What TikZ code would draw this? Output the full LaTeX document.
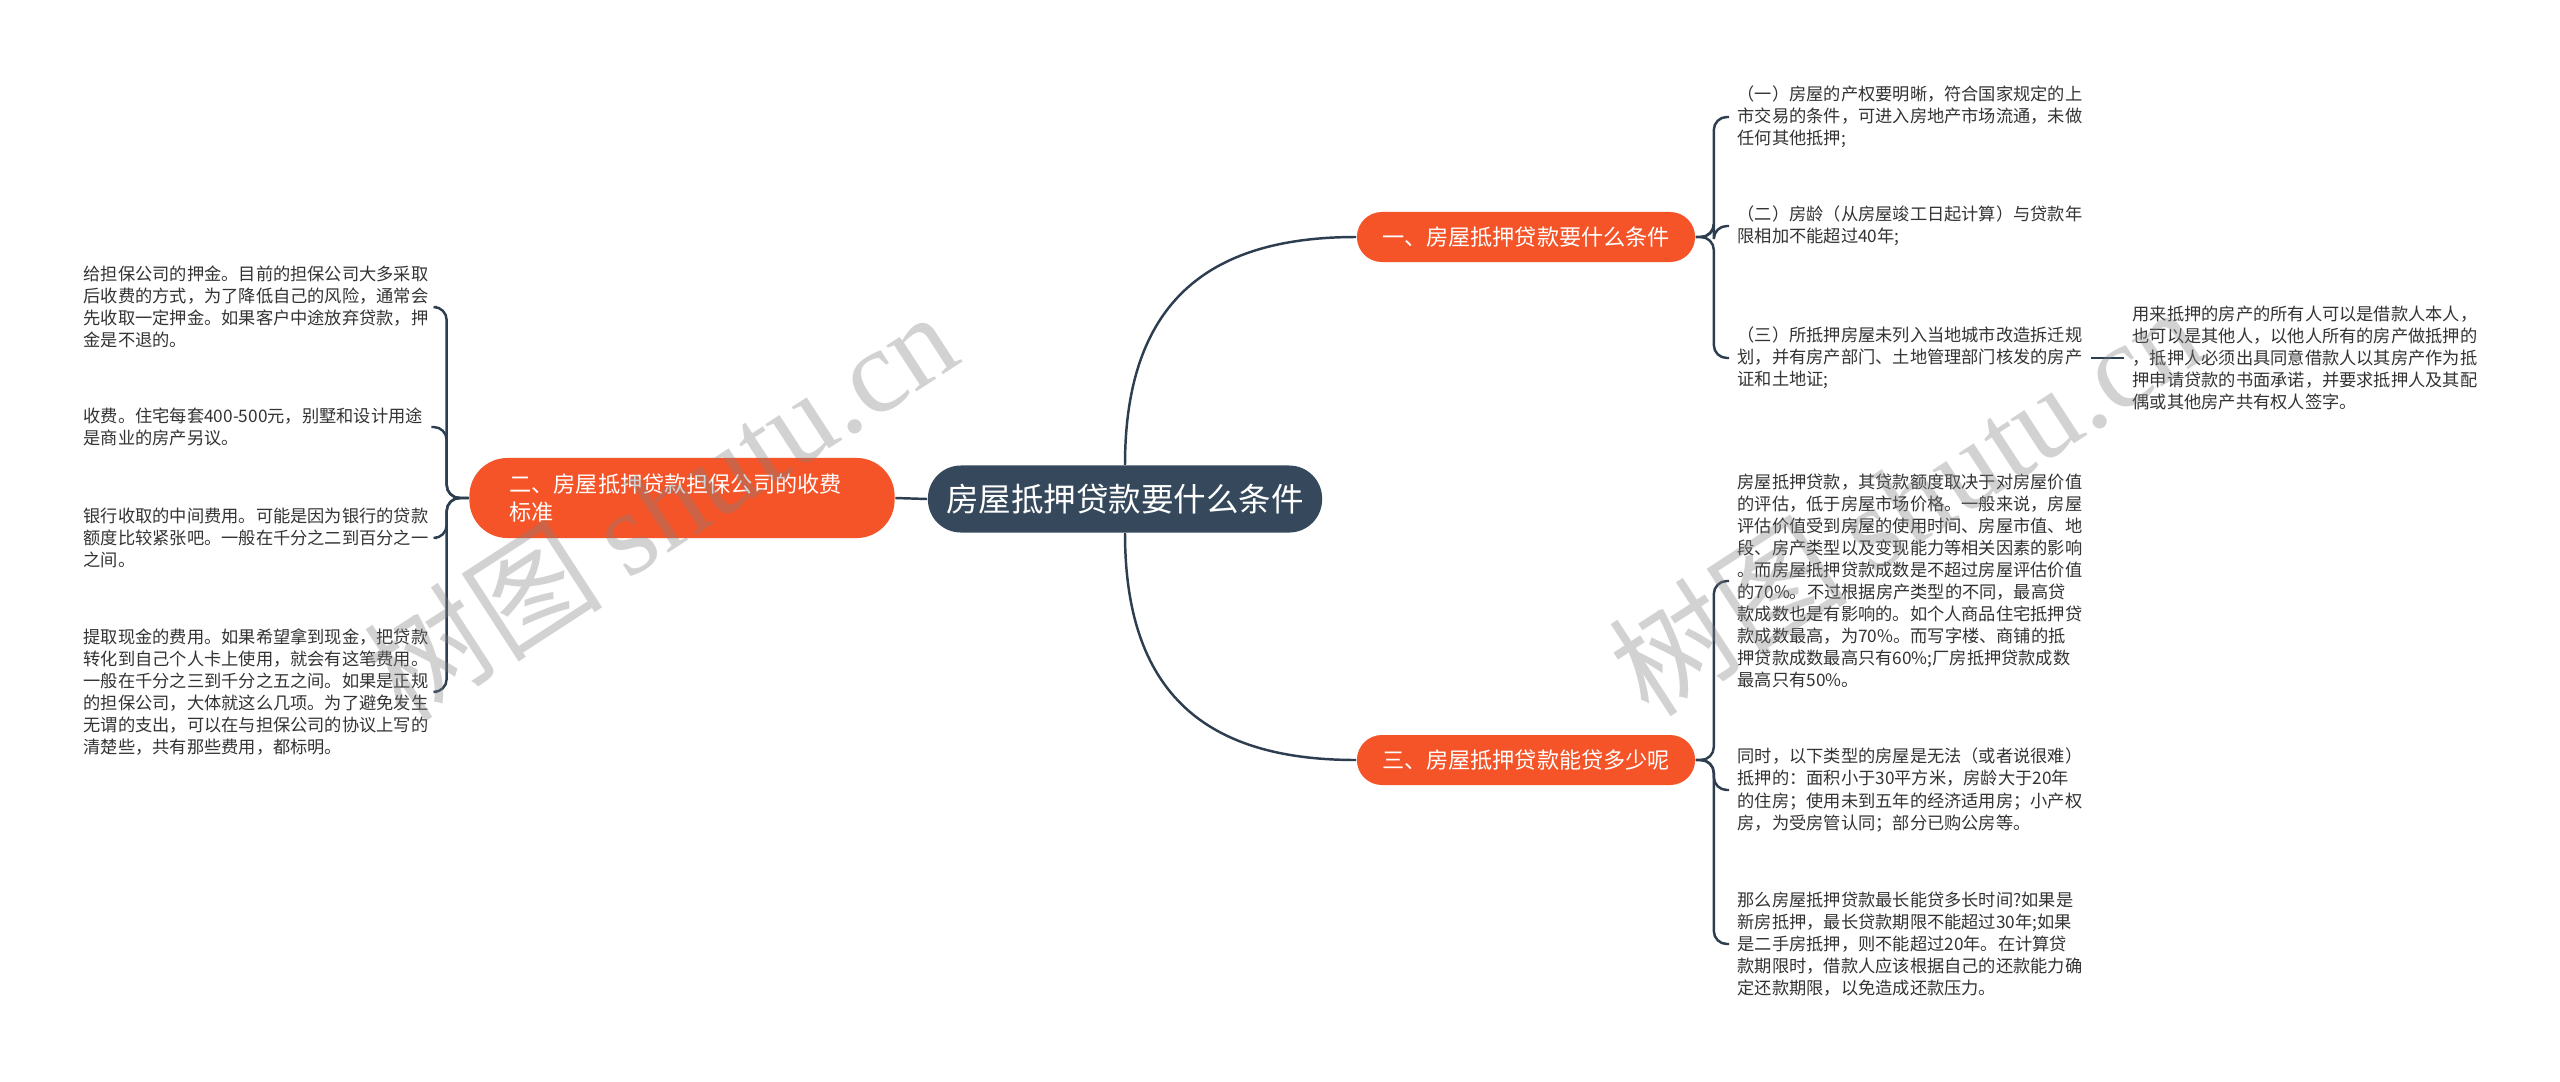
\documentclass[tikz,border=0pt]{standalone}
\usepackage{fontspec}
\setmainfont{Noto Sans CJK SC}
\newfontfamily\stampserif{Liberation Serif}
\usetikzlibrary{positioning}
\definecolor{hubblue}{RGB}{54,73,92}
\definecolor{branchred}{RGB}{245,83,40}
\definecolor{linkblue}{RGB}{45,62,80}
\definecolor{leafgray}{RGB}{51,51,51}

\begin{document}
\begin{tikzpicture}[x=0.01cm, y=-0.01cm,
    hub/.style={fill=hubblue, text=white, rounded corners=0.33cm, minimum width=3.94cm,
        minimum height=0.67cm, inner sep=0pt, font=\fontsize{9.25}{11}\selectfont},
    branch/.style={fill=branchred, text=white, rounded corners=0.25cm, minimum width=3.38cm,
        minimum height=0.50cm, inner sep=0pt, font=\fontsize{6.3}{8}\selectfont},
    leaf/.style={text=leafgray, align=left, inner xsep=0.08cm, inner ysep=0.02cm,
        font=\fontsize{4.9}{6.26}\selectfont},
    link/.style={draw=linkblue, line width=0.7pt},
    bracelink/.style={link, rounded corners=0.13cm},
    stamp/.style={rotate=33, text=black!50, text opacity=0.35,
        font=\fontsize{34}{40}\selectfont}]
        \useasboundingbox (0,0) rectangle (2560,1081);
        \fill[white] (0,0) rectangle (2560,1081);

        % Centre and main branches
        \node[hub] (hub) at (1125, 499) {房屋抵押贷款要什么条件};
        \node[branch] (cond) at (1526, 237) {一、房屋抵押贷款要什么条件};
        \node[branch] (amount) at (1526, 760) {三、房屋抵押贷款能贷多少呢};
        \node[branch, text width=3.45cm, align=left, inner xsep=0.40cm, minimum height=0.80cm,
            rounded corners=0.38cm, font=\fontsize{6.3}{7.97}\selectfont] (fee) at (682, 498)
            {二、房屋抵押贷款担保公司的收费\\标准};

        \draw[link] (hub.north) .. controls +(0,-170) and +(-140,0) .. (cond.west);
        \draw[link] (hub.south) .. controls +(0,170) and +(-140,0) .. (amount.west);
        \draw[link] (hub.west) -- (fee.east);

        % Conditions
        \node[leaf, anchor=west] (cond1) at (1729, 117)
            {（一）房屋的产权要明晰，符合国家规定的上\\市交易的条件，可进入房地产市场流通，未做\\任何其他抵押;};
        \node[leaf, anchor=west] (cond2) at (1729, 226)
            {（二）房龄（从房屋竣工日起计算）与贷款年\\限相加不能超过40年;};
        \node[leaf, anchor=west] (cond3) at (1729, 358)
            {（三）所抵押房屋未列入当地城市改造拆迁规\\划，并有房产部门、土地管理部门核发的房产\\证和土地证;};
        \node[leaf, anchor=west] (owner) at (2124, 358)
            {用来抵押的房产的所有人可以是借款人本人，\\也可以是其他人，以他人所有的房产做抵押的\\，抵押人必须出具同意借款人以其房产作为抵\\押申请贷款的书面承诺，并要求抵押人及其配\\偶或其他房产共有权人签字。};

        \foreach \leafname in {cond1, cond2, cond3}
            \draw[bracelink] (cond.east) -- ++(18,0) |- (\leafname.west);
        \draw[link] (cond3.east) -- (owner.west);

        % Amount
        \node[leaf, anchor=west] (amount1) at (1729, 581)
            {房屋抵押贷款，其贷款额度取决于对房屋价值\\的评估，低于房屋市场价格。一般来说，房屋\\评估价值受到房屋的使用时间、房屋市值、地\\段、房产类型以及变现能力等相关因素的影响\\。而房屋抵押贷款成数是不超过房屋评估价值\\的70\%。不过根据房产类型的不同，最高贷\\款成数也是有影响的。如个人商品住宅抵押贷\\款成数最高，为70\%。而写字楼、商铺的抵\\押贷款成数最高只有60\%;厂房抵押贷款成数\\最高只有50\%。};
        \node[leaf, anchor=west] (amount2) at (1729, 790)
            {同时，以下类型的房屋是无法（或者说很难）\\抵押的：面积小于30平方米，房龄大于20年\\的住房；使用未到五年的经济适用房；小产权\\房，为受房管认同；部分已购公房等。};
        \node[leaf, anchor=west] (amount3) at (1729, 944)
            {那么房屋抵押贷款最长能贷多长时间?如果是\\新房抵押，最长贷款期限不能超过30年;如果\\是二手房抵押，则不能超过20年。在计算贷\\款期限时，借款人应该根据自己的还款能力确\\定还款期限，以免造成还款压力。};

        \foreach \leafname in {amount1, amount2, amount3}
            \draw[bracelink] (amount.east) -- ++(18,0) |- (\leafname.west);

        % Fees
        \node[leaf, anchor=west] (fee1) at (75, 307)
            {给担保公司的押金。目前的担保公司大多采取\\后收费的方式，为了降低自己的风险，通常会\\先收取一定押金。如果客户中途放弃贷款，押\\金是不退的。};
        \node[leaf, anchor=west] (fee2) at (75, 427)
            {收费。住宅每套400-500元，别墅和设计用途\\是商业的房产另议。};
        \node[leaf, anchor=west] (fee3) at (75, 538)
            {银行收取的中间费用。可能是因为银行的贷款\\额度比较紧张吧。一般在千分之二到百分之一\\之间。};
        \node[leaf, anchor=west] (fee4) at (75, 692)
            {提取现金的费用。如果希望拿到现金，把贷款\\转化到自己个人卡上使用，就会有这笔费用。\\一般在千分之三到千分之五之间。如果是正规\\的担保公司，大体就这么几项。为了避免发生\\无谓的支出，可以在与担保公司的协议上写的\\清楚些，共有那些费用，都标明。};

        \foreach \leafname in {fee1, fee2, fee3, fee4}
            \draw[bracelink] (fee.west) -- ++(-22,0) |- (\leafname.east);

        % Watermark
        \node[stamp] (stampleft) at (660, 505) {树图 {\stampserif shutu.cn}};
        \node[stamp] (stampright) at (1905, 500) {树图 {\stampserif shutu.cn}};
    \end{tikzpicture}
\end{document}
